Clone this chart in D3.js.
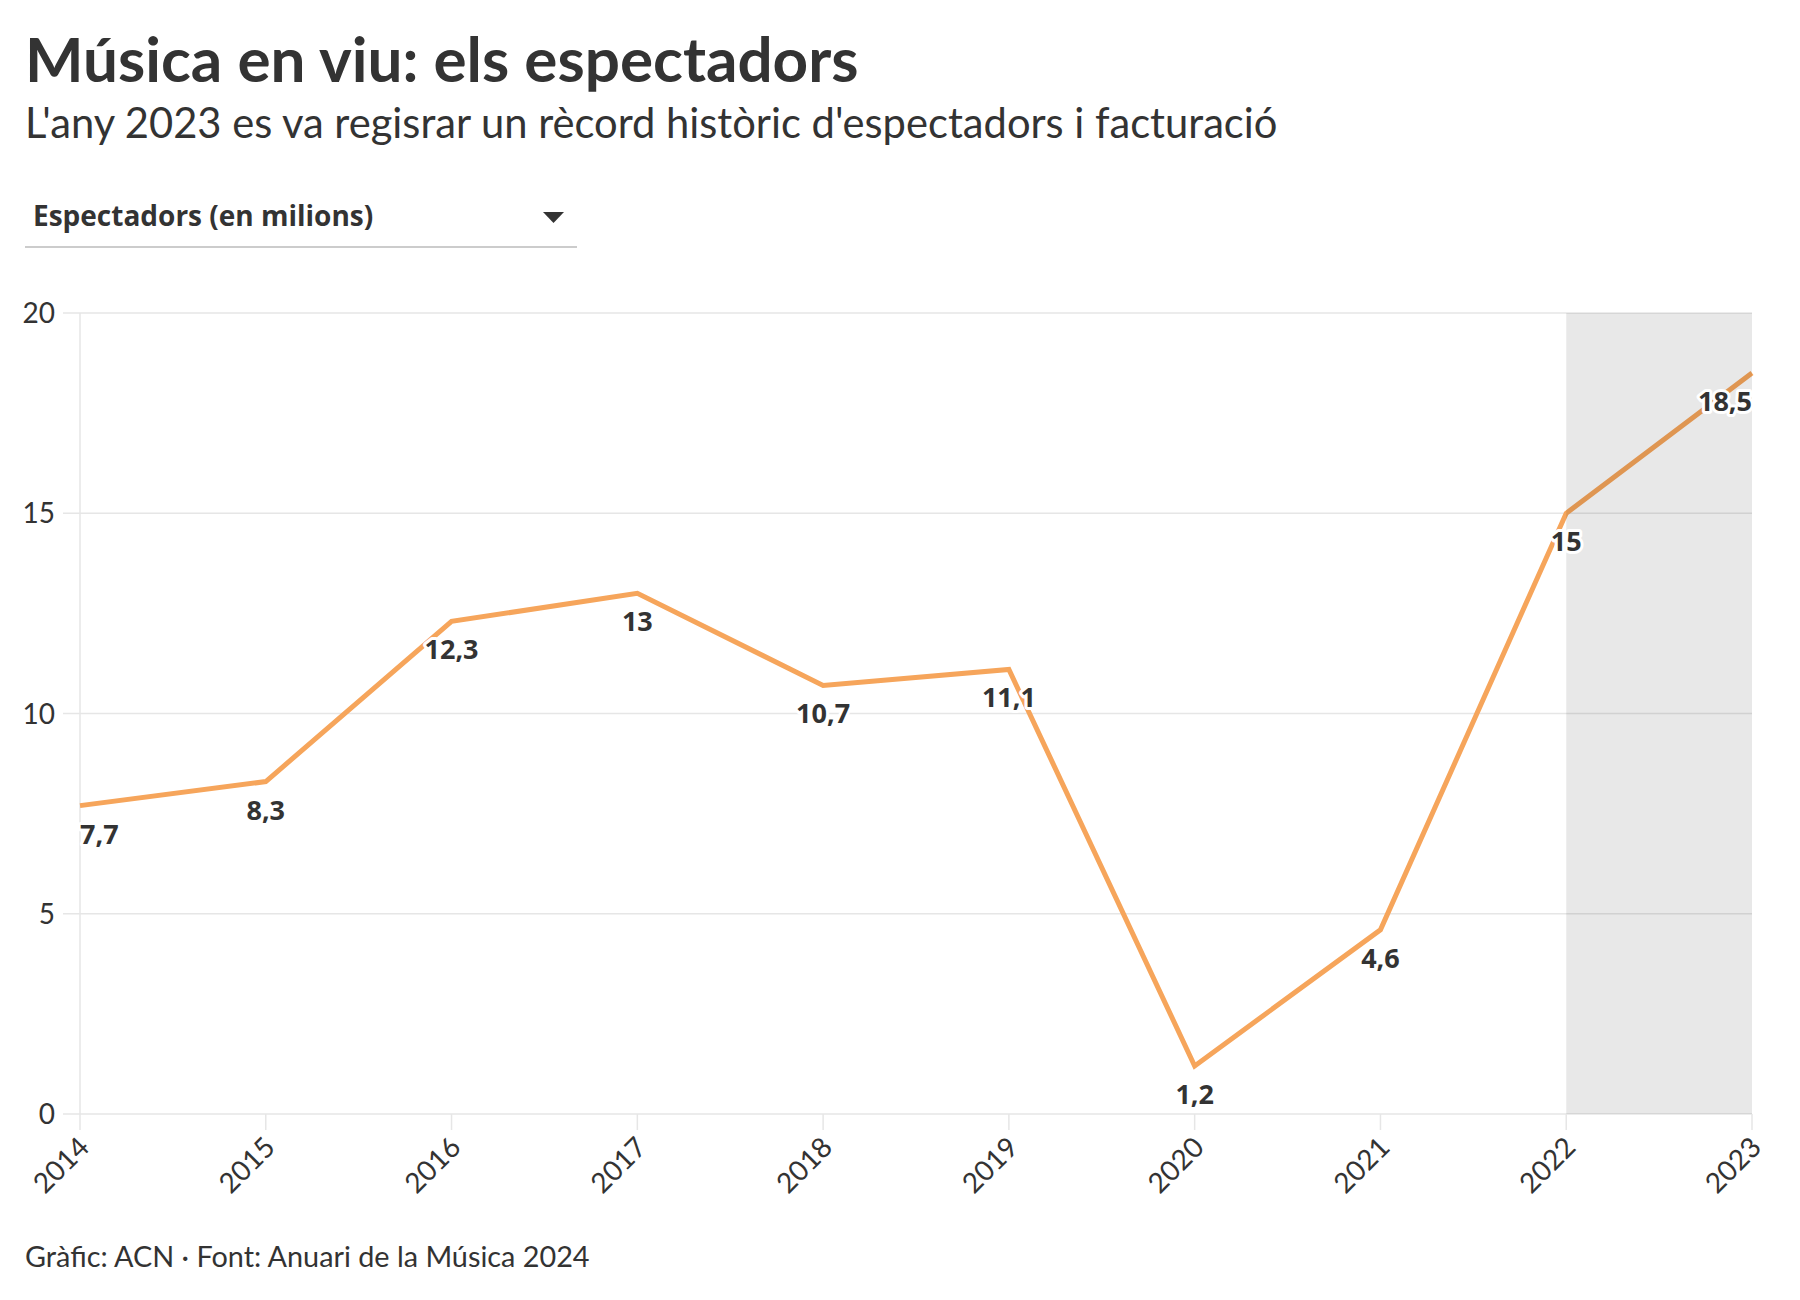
<!DOCTYPE html>
<html>
<head>
<meta charset="utf-8">
<script src="https://cdn.jsdelivr.net/npm/d3@7"></script>
<style>
  body { margin: 0; background: #fff; }
  text { font-family: Lato, 'Open Sans', sans-serif; fill: #333; }
</style>
</head>
<body>
<div id="chart"></div>
<script>
// DATA
var years = ['2014','2015','2016','2017','2018','2019','2020','2021','2022','2023'];
var espectadors = [7.7, 8.3, 12.3, 13, 10.7, 11.1, 1.2, 4.6, 15, 18.5];
var yTicks = [0, 5, 10, 15, 20];
var highlightYears = ['2022', '2023'];

var W = 1800, H = 1300;
var plotLeft = 80, plotRight = 1752, plotTop = 313, plotBottom = 1114;

var svg = d3.select('#chart').append('svg')
  .attr('width', W)
  .attr('height', H);

// HEADER
svg.append('text')
  .text('Música en viu: els espectadors')
  .attr('x', 25).attr('y', 82)
  .attr('font-size', 62)
  .attr('font-weight', 700);

svg.append('text')
  .text("L'any 2023 es va regisrar un rècord històric d'espectadors i facturació")
  .attr('x', 25).attr('y', 138)
  .attr('font-size', 41.7);

// dropdown (static)
svg.append('text')
  .text('Espectadors (en milions)')
  .attr('x', 33).attr('y', 226)
  .style('font-family', "'Open Sans', sans-serif")
  .attr('font-size', 28)
  .attr('font-weight', 700);

svg.append('path')
  .attr('d', 'M543,212 L564,212 L553.5,223 Z')
  .attr('fill', '#333');

svg.append('line')
  .attr('x1', 25).attr('x2', 577)
  .attr('y1', 247).attr('y2', 247)
  .attr('stroke', '#cccccc')
  .attr('stroke-width', 2);

// SCALES
var x = d3.scalePoint().domain(years).range([plotLeft, plotRight]);
var y = d3.scaleLinear().domain([0, 20]).range([plotBottom, plotTop]);

// GRID
var grid = svg.append('g').attr('class', 'grid');

grid.selectAll('line.hgrid')
  .data(yTicks)
  .enter().append('line')
    .attr('class', 'hgrid')
    .attr('x1', plotLeft - 17).attr('x2', plotRight)
    .attr('y1', function(d) { return y(d); })
    .attr('y2', function(d) { return y(d); })
    .attr('stroke', '#e6e6e6')
    .attr('stroke-width', 1.5);

grid.append('line')
  .attr('x1', plotLeft).attr('x2', plotLeft)
  .attr('y1', plotTop).attr('y2', plotBottom)
  .attr('stroke', '#e6e6e6')
  .attr('stroke-width', 1.5);

grid.selectAll('line.xtick')
  .data(years)
  .enter().append('line')
    .attr('class', 'xtick')
    .attr('x1', function(d) { return x(d); })
    .attr('x2', function(d) { return x(d); })
    .attr('y1', plotBottom).attr('y2', plotBottom + 16)
    .attr('stroke', '#e6e6e6')
    .attr('stroke-width', 1.5);

svg.selectAll('text.ylabel')
  .data(yTicks)
  .enter().append('text')
    .attr('class', 'ylabel')
    .text(function(d) { return d; })
    .attr('x', 55)
    .attr('y', function(d) { return y(d) + 10; })
    .attr('text-anchor', 'end')
    .attr('font-size', 28)
    .attr('fill', '#444');

svg.selectAll('text.xlabel')
  .data(years)
  .enter().append('text')
    .attr('class', 'xlabel')
    .text(function(d) { return d; })
    .attr('text-anchor', 'end')
    .attr('font-size', 28)
    .attr('fill', '#444')
    .attr('transform', function(d) { return 'translate(' + (x(d) + 11) + ',' + (plotBottom + 35) + ') rotate(-45)'; });

// LINE
var line = d3.line()
  .x(function(d, i) { return x(years[i]); })
  .y(function(d) { return y(d); });

svg.append('path')
  .datum(espectadors)
  .attr('d', line)
  .attr('fill', 'none')
  .attr('stroke', '#f6a55b')
  .attr('stroke-width', 5)
  .attr('stroke-linejoin', 'miter');

// highlighted band (over the line, translucent)
svg.append('rect')
  .attr('x', x(highlightYears[0]))
  .attr('width', x(highlightYears[1]) - x(highlightYears[0]))
  .attr('y', plotTop)
  .attr('height', plotBottom - plotTop)
  .attr('fill', '#000')
  .attr('fill-opacity', 0.09);

// VALUE LABELS
svg.selectAll('text.value')
  .data(espectadors)
  .enter().append('text')
    .attr('class', 'value')
    .text(function(d) { return String(d).replace('.', ','); })
    .attr('x', function(d, i) { return x(years[i]); })
    .attr('y', function(d) { return y(d) + 38; })
    .attr('text-anchor', function(d, i) { return i == 0 ? 'start' : (i == years.length - 1 ? 'end' : 'middle'); })
    .style('font-family', "'Open Sans', sans-serif")
    .attr('font-size', 27)
    .attr('font-weight', 700)
    .attr('fill', '#2b2b2b')
    .attr('stroke', '#fff')
    .attr('stroke-width', 6)
    .attr('stroke-linejoin', 'round')
    .attr('paint-order', 'stroke');

// FOOTER
svg.append('text')
  .text('Gràfic: ACN · Font: Anuari de la Música 2024')
  .attr('x', 25).attr('y', 1267)
  .attr('font-size', 28.8)
  .attr('fill', '#444');
</script>
</body>
</html>
